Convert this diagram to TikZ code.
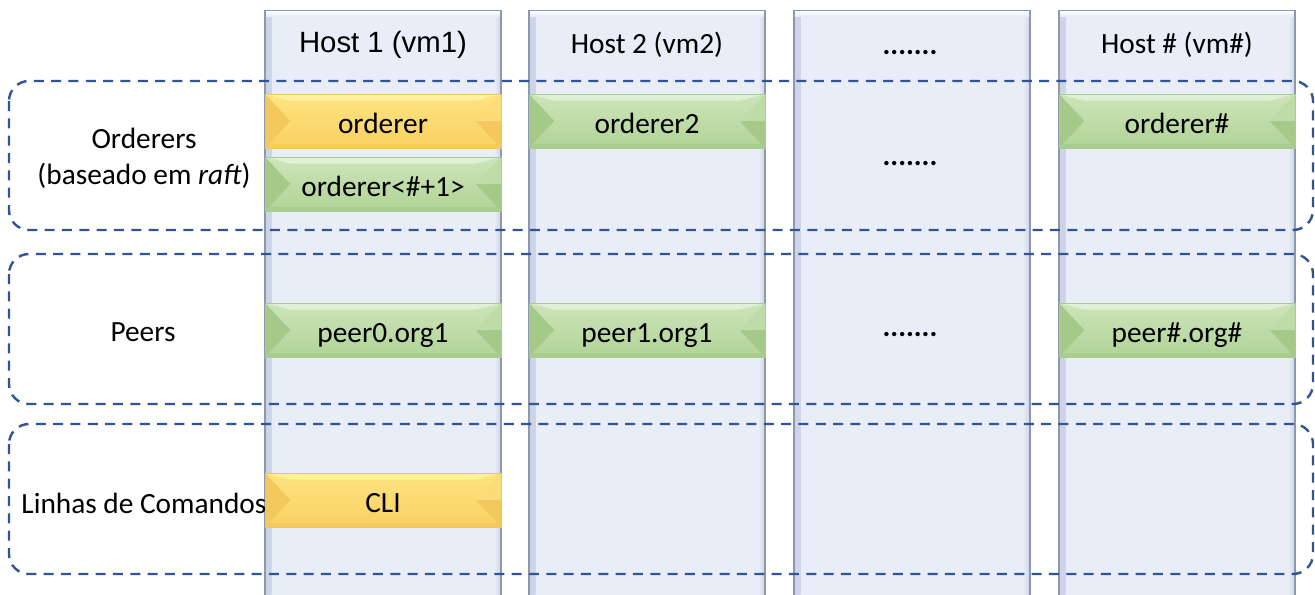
\documentclass[tikz,border=0pt]{standalone}
\usepackage{fontspec}
\setmainfont{Carlito}
\newfontfamily\arialf{Liberation Sans}
\definecolor{colFill}{RGB}{233,237,248}
\definecolor{colEdge}{RGB}{140,152,178}
\definecolor{colShadow}{RGB}{205,212,230}
\definecolor{grpBlue}{RGB}{47,85,151}
\definecolor{Gtop}{RGB}{205,229,186}
\definecolor{Gbot}{RGB}{176,211,150}
\definecolor{Gtri}{RGB}{164,201,137}
\definecolor{Gtri2}{RGB}{190,220,168}
\definecolor{Ghi}{RGB}{224,240,212}
\definecolor{Gedge}{RGB}{168,204,140}
\definecolor{Ytop}{RGB}{255,228,130}
\definecolor{Ybot}{RGB}{249,208,98}
\definecolor{Ytri}{RGB}{243,200,92}
\definecolor{Ytri2}{RGB}{252,220,120}
\definecolor{Yhi}{RGB}{255,240,160}
\definecolor{Yedge}{RGB}{240,198,90}
\begin{document}
\begin{tikzpicture}[x=0.75pt,y=-0.75pt,
  txt/.style={font=\fontsize{22pt}{27pt}\selectfont, text=black, inner sep=0pt, align=center},
  dots/.style={txt, font=\bfseries\fontsize{22pt}{27pt}\selectfont, anchor=base},
  colbox/.style={draw=colEdge, line width=1pt, fill=colFill, minimum width=177pt,
    minimum height=442.5pt, anchor=north, inner sep=0pt,
    path picture={
      \shade[left color=colShadow, right color=colFill]
        (path picture bounding box.north west) rectangle ([xshift=5pt]path picture bounding box.south west);
      \shade[left color=colFill, right color=colShadow]
        ([xshift=-5pt]path picture bounding box.north east) rectangle (path picture bounding box.south east);
      \shade[top color=white, bottom color=colFill]
        (path picture bounding box.north west) rectangle ([yshift=-4pt]path picture bounding box.north east);
    }},
  bevel/.style={minimum width=177pt, minimum height=40.5pt, inner sep=0pt,
    text height=21pt, text depth=3pt,
    font=\fontsize{22pt}{27pt}\selectfont, draw=#1edge, line width=0.4pt,
    path picture={
      \shade[top color=#1top, bottom color=#1bot]
        (path picture bounding box.north west) rectangle (path picture bounding box.south east);
      \fill[#1hi] (path picture bounding box.north west) -- (path picture bounding box.north east)
        -- ([xshift=-19pt,yshift=-5pt]path picture bounding box.north east)
        -- ([xshift=19pt,yshift=-5pt]path picture bounding box.north west) -- cycle;
      \fill[#1tri] (path picture bounding box.north west) -- ([xshift=19pt]path picture bounding box.west)
        -- (path picture bounding box.south west) -- cycle;
      \fill[#1tri] (path picture bounding box.east) -- ([xshift=-19pt]path picture bounding box.east)
        -- (path picture bounding box.south east) -- cycle;
      \fill[#1tri2] (path picture bounding box.north east) -- ([xshift=-19pt]path picture bounding box.east)
        -- (path picture bounding box.east) -- cycle;
      \fill[#1tri, opacity=0.6] ([yshift=3pt]path picture bounding box.south west) rectangle (path picture bounding box.south east);
    }},
  grp/.style={draw=grpBlue, line width=1.8pt, dash pattern=on 7.5pt off 5.5pt, rounded corners=15pt}
]
\useasboundingbox (0,0) rectangle (1315,594);
\clip (0,0) rectangle (1315,594);

% host columns
\node[colbox] (c1) at (383,10) {};
\node[colbox] (c2) at (647,10) {};
\node[colbox] (c3) at (912,10) {};
\node[colbox] (c4) at (1177,10) {};

% headers
\node[txt, anchor=base, font=\arialf\fontsize{22pt}{27pt}\selectfont] (h1) at (383,52) {Host 1 (vm1)};
\node[txt, anchor=base] (h2) at (647,53) {Host 2 (vm2)};
\node[dots] (h3) at (910,54) {.......};
\node[txt, anchor=base] (h4) at (1177,53) {Host \# (vm\#)};

% group boxes
\path[grp] (9,81) rectangle (1313,230) coordinate (gOend);
\path[grp] (9,254) rectangle (1313,404) coordinate (gPend);
\path[grp] (9,424) rectangle (1313,574) coordinate (gLend);

% group labels
\node[txt] (lo) at (144,158) {Orderers\\(baseado em \textit{raft})};
\node[txt] (lp) at (143,332) {Peers};
\node[txt] (ll) at (144,503) {Linhas de Comandos};

% orderers
\node[bevel=Y] (o1) at (383,121) {orderer};
\node[bevel=G] (o1b) at (383,184) {orderer<\#+1>};
\node[bevel=G] (o2) at (647,121) {orderer2};
\node[dots] (od) at (910,165) {.......};
\node[bevel=G] (o4) at (1177,121) {orderer\#};

% peers
\node[bevel=G] (p1) at (383,330) {peer0.org1};
\node[bevel=G] (p2) at (647,330) {peer1.org1};
\node[dots] (pd) at (910,336) {.......};
\node[bevel=G] (p4) at (1177,330) {peer\#.org\#};

% CLI
\node[bevel=Y] (cli) at (383,500) {CLI};
\end{tikzpicture}
\end{document}
